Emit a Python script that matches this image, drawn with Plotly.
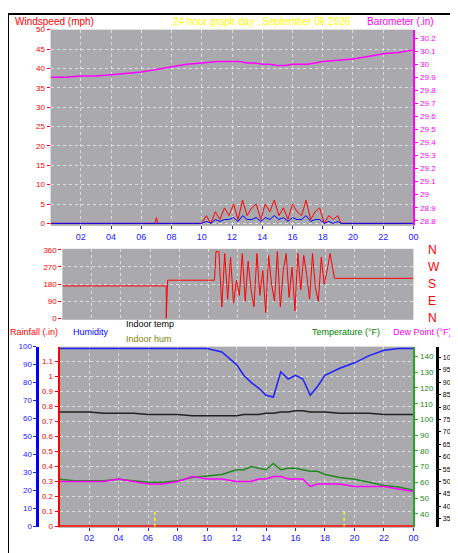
import plotly.graph_objects as go

hours = [0, 1, 2, 3, 4, 5, 6, 7, 8, 9, 10, 11, 12, 12.5, 13, 13.5, 14, 14.5, 15, 15.5, 16, 16.5, 17, 17.5, 18, 19, 20, 21, 22, 23, 24]
barometer = [29.90, 29.90, 29.91, 29.91, 29.92, 29.93, 29.94, 29.96, 29.98, 30.00, 30.01, 30.02, 30.02, 30.02, 30.01, 30.01, 30.00, 30.00, 29.99, 29.99, 30.00, 30.00, 30.00, 30.01, 30.02, 30.03, 30.04, 30.06, 30.08, 30.09, 30.11]
humidity = [99, 99, 99, 99, 99, 99, 99, 99, 99, 99, 99, 97, 90, 84, 80, 77, 73, 72, 86, 82, 84, 82, 73, 78, 84, 88, 91, 95, 98, 99, 99]
temperature = [62, 61, 61, 61, 62, 61, 60, 60, 61, 63, 64, 65, 68, 68, 70, 69, 68, 72, 68, 69, 69, 68, 67, 67, 65, 63, 62, 60, 58, 57, 55]
dew_point = [50, 50, 50, 50, 51, 50, 49, 49, 50, 52, 51, 51, 50, 50, 50, 51, 51, 52, 52, 51, 51, 51, 48, 49, 49, 49, 48, 48, 48, 47, 46]
indoor_temp = [78, 78, 78, 77.5, 77.5, 77.5, 77, 77, 77, 76.5, 76.5, 76.5, 76.5, 77, 77, 77, 77.5, 77.5, 78, 78, 78.5, 78.5, 78, 78, 78, 77.5, 77.5, 77.5, 77, 77, 77]

gust_hours = [0, 6.9, 7.0, 7.1, 10.0, 10.3, 10.6, 10.9, 11.2, 11.5, 11.8, 12.1, 12.4, 12.7, 13.0, 13.3, 13.6, 13.9, 14.2, 14.5, 14.8, 15.1, 15.4, 15.7, 16.0, 16.3, 16.6, 16.9, 17.2, 17.5, 17.8, 18.1, 18.4, 18.7, 19.0, 19.2, 24]
gust = [0, 0, 1.5, 0, 0, 2, 0, 3, 1, 4, 2, 5, 1, 6, 2, 4, 5, 1, 5, 3, 6, 2, 4, 1, 5, 3, 2, 6, 1, 3, 4, 0, 2, 1, 2, 0, 0]
avg_wind = [0, 0, 0, 0, 0, 0.5, 0, 1, 0.5, 1, 1, 1.5, 0.5, 2, 1, 1, 1.5, 0.5, 1.5, 1, 2, 1, 1.5, 0.5, 1.5, 1, 1, 2, 0.5, 1, 1, 0, 0.5, 0, 0.5, 0, 0]

dir_hours = [0, 7.1, 7.1, 7.2, 10.0, 10.4, 10.5, 10.7, 10.9, 11.1, 11.3, 11.5, 11.7, 11.9, 12.1, 12.3, 12.5, 12.7, 12.9, 13.1, 13.3, 13.5, 13.7, 13.9, 14.1, 14.3, 14.5, 14.7, 14.9, 15.1, 15.3, 15.5, 15.7, 15.9, 16.1, 16.3, 16.5, 16.7, 16.9, 17.1, 17.3, 17.5, 17.7, 17.9, 18.1, 18.3, 18.6, 24]
wind_dir = [170, 170, 0, 200, 200, 200, 350, 350, 60, 340, 100, 320, 80, 200, 120, 340, 90, 300, 150, 60, 340, 120, 250, 30, 330, 180, 90, 350, 60, 250, 340, 110, 270, 40, 340, 150, 330, 230, 100, 340, 160, 90, 320, 180, 250, 340, 210, 210]

sunrise = 6.45
sunset = 19.3

xticks = [2, 4, 6, 8, 10, 12, 14, 16, 18, 20, 22, 24]
xlabels = ["02", "04", "06", "08", "10", "12", "14", "16", "18", "20", "22", "00"]

BG = "#aaaaae"
GRID = "rgba(235,235,235,0.8)"
fnt = dict(family="Arial", size=8)

def yd(top, bottom):
    return [1 - bottom / 553, 1 - top / 553]

def line(x, y, color, width, xa, ya, dash="solid"):
    return go.Scatter(x=x, y=y, mode="lines", line=dict(color=color, width=width, dash=dash), xaxis=xa, yaxis=ya)

fig = go.Figure()
# top panel
fig.add_trace(line(hours, barometer, "#ff00ff", 1.5, "x", "y2"))
fig.add_trace(line(gust_hours, gust, "#ff0000", 1, "x", "y"))
fig.add_trace(line(gust_hours, avg_wind, "#0000ff", 1, "x", "y"))
# direction
fig.add_trace(line(dir_hours, wind_dir, "#ff0000", 1, "x2", "y3"))
# bottom panel
fig.add_trace(line([0, 24], [0, 0], "#ff0000", 3, "x3", "y5"))
fig.add_trace(line([sunrise, sunrise, None, sunset, sunset], [0, 0.1, None, 0, 0.1], "#ffff00", 1.5, "x3", "y5", "dot"))
fig.add_trace(line(hours, humidity, "#2020ff", 1.5, "x3", "y6"))
fig.add_trace(line(hours, indoor_temp, "#222222", 1.5, "x3", "y8"))
fig.add_trace(line(hours, temperature, "#228822", 1.5, "x3", "y7"))
fig.add_trace(line(hours, dew_point, "#ff00ff", 1.5, "x3", "y8"))

xcommon = dict(range=[0, 24], tickvals=xticks, ticktext=xlabels, gridcolor=GRID, griddash="dot",
               tickfont=dict(family="Arial", size=9, color="#2020ff"), ticks="outside", ticklen=3,
               tickcolor="#2020ff", showline=True, linecolor="#bbbbbb", zeroline=False)
ycommon = dict(gridcolor=GRID, griddash="dot", zeroline=False, ticks="outside", ticklen=3)

fig.update_layout(
    width=458, height=553, margin=dict(l=0, r=0, t=0, b=0),
    paper_bgcolor="white", plot_bgcolor=BG, showlegend=False, font=fnt,
    xaxis=dict(xcommon, domain=[0.094, 0.895], anchor="y"),
    yaxis=dict(ycommon, domain=yd(16, 216), range=[-0.5, 50], dtick=5, anchor="x",
               tickfont=dict(size=8, color="#ff0000"), tickcolor="#ff0000"),
    yaxis2=dict(ycommon, overlaying="y", side="right", anchor="x", range=[28.765, 30.265], dtick=0.1,
                showgrid=False, tickfont=dict(size=8, color="#ff00ff"), tickcolor="#ff00ff",
                showline=True, linecolor="#ff00ff", linewidth=2),
    xaxis2=dict(xcommon, domain=[0.12, 0.895], anchor="y3", showticklabels=False, ticks=""),
    yaxis3=dict(ycommon, domain=yd(240, 312), range=[-5, 365], tickvals=[0, 90, 180, 270, 360], anchor="x2",
                tickfont=dict(size=8, color="#ff0000"), tickcolor="#ff0000"),
    yaxis4=dict(overlaying="y3", side="right", anchor="free", position=0.925, range=[-5, 365],
                tickvals=[0, 90, 180, 270, 360], ticktext=["N", "E", "S", "W", "N"], showgrid=False,
                tickfont=dict(family="Arial", size=12, color="#ff0000"), ticks=""),
    xaxis3=dict(xcommon, domain=[0.114, 0.895], anchor="y5"),
    yaxis5=dict(ycommon, domain=yd(340, 524), range=[0, 1.2], tickvals=[0, .1, .2, .3, .4, .5, .6, .7, .8, .9, 1, 1.1],
                anchor="x3", tickfont=dict(size=8, color="#ff0000"), tickcolor="#ff0000",
                showline=True, linecolor="#ff0000", linewidth=2, griddash="dot"),
    yaxis6=dict(overlaying="y5", side="left", anchor="free", position=0.065, range=[0, 100], dtick=10,
                showgrid=False, ticks="outside", ticklen=3, tickfont=dict(size=8, color="#2020ff"),
                tickcolor="#2020ff", showline=True, linecolor="#0000ff", linewidth=3),
    yaxis7=dict(overlaying="y5", side="right", anchor="x3", range=[31.8, 146.3], tickvals=list(range(40, 150, 10)),
                showgrid=False, ticks="outside", ticklen=3, tickfont=dict(size=8, color="#228822"),
                tickcolor="#22aa22", showline=True, linecolor="#22aa22", linewidth=2),
    yaxis8=dict(overlaying="y5", side="right", anchor="free", position=0.948, range=[31.8, 104.4],
                tickvals=list(range(35, 105, 5)), showgrid=False, ticks="outside", ticklen=2,
                tickfont=dict(size=7, color="#000000"), tickcolor="#000000",
                showline=True, linecolor="#000000", linewidth=3),
    shapes=[dict(type="rect", xref="paper", yref="paper", x0=0, x1=1, y0=0, y1=1,
                 line=dict(color="black", width=2))],
)
fig.add_trace(go.Scatter(x=[0], y=[0], xaxis="x2", yaxis="y4", mode="markers", marker=dict(opacity=0)))

ann = [
    ("Windspeed (mph)", 0.01, 1.0, "left", "#ff0000", 10),
    ("24 hour graph day : September 06 2026", 0.56, 1.0, "center", "#ffff00", 10),
    ("Barometer (.in)", 0.945, 1.0, "right", "#ff00ff", 10),
    ("Rainfall (.in)", 0.0, 1 - 318 / 553, "left", "#ff0000", 9),
    ("Humidity", 0.14, 1 - 318 / 553, "left", "#0000ff", 9),
    ("Indoor temp", 0.255, 1 - 310 / 553, "left", "#000000", 9),
    ("Indoor hum", 0.255, 1 - 325 / 553, "left", "#808000", 9),
    ("Temperature (°F)", 0.825, 1 - 318 / 553, "right", "#008000", 9),
    ("Dew Point (°F)", 0.985, 1 - 318 / 553, "right", "#ff00ff", 9),
]
for text, x, y, xa, c, s in ann:
    fig.add_annotation(text=text, x=x, y=y, xref="paper", yref="paper", xanchor=xa, yanchor="top",
                       showarrow=False, font=dict(family="Arial", size=s, color=c))

fig.write_html("out.html")
